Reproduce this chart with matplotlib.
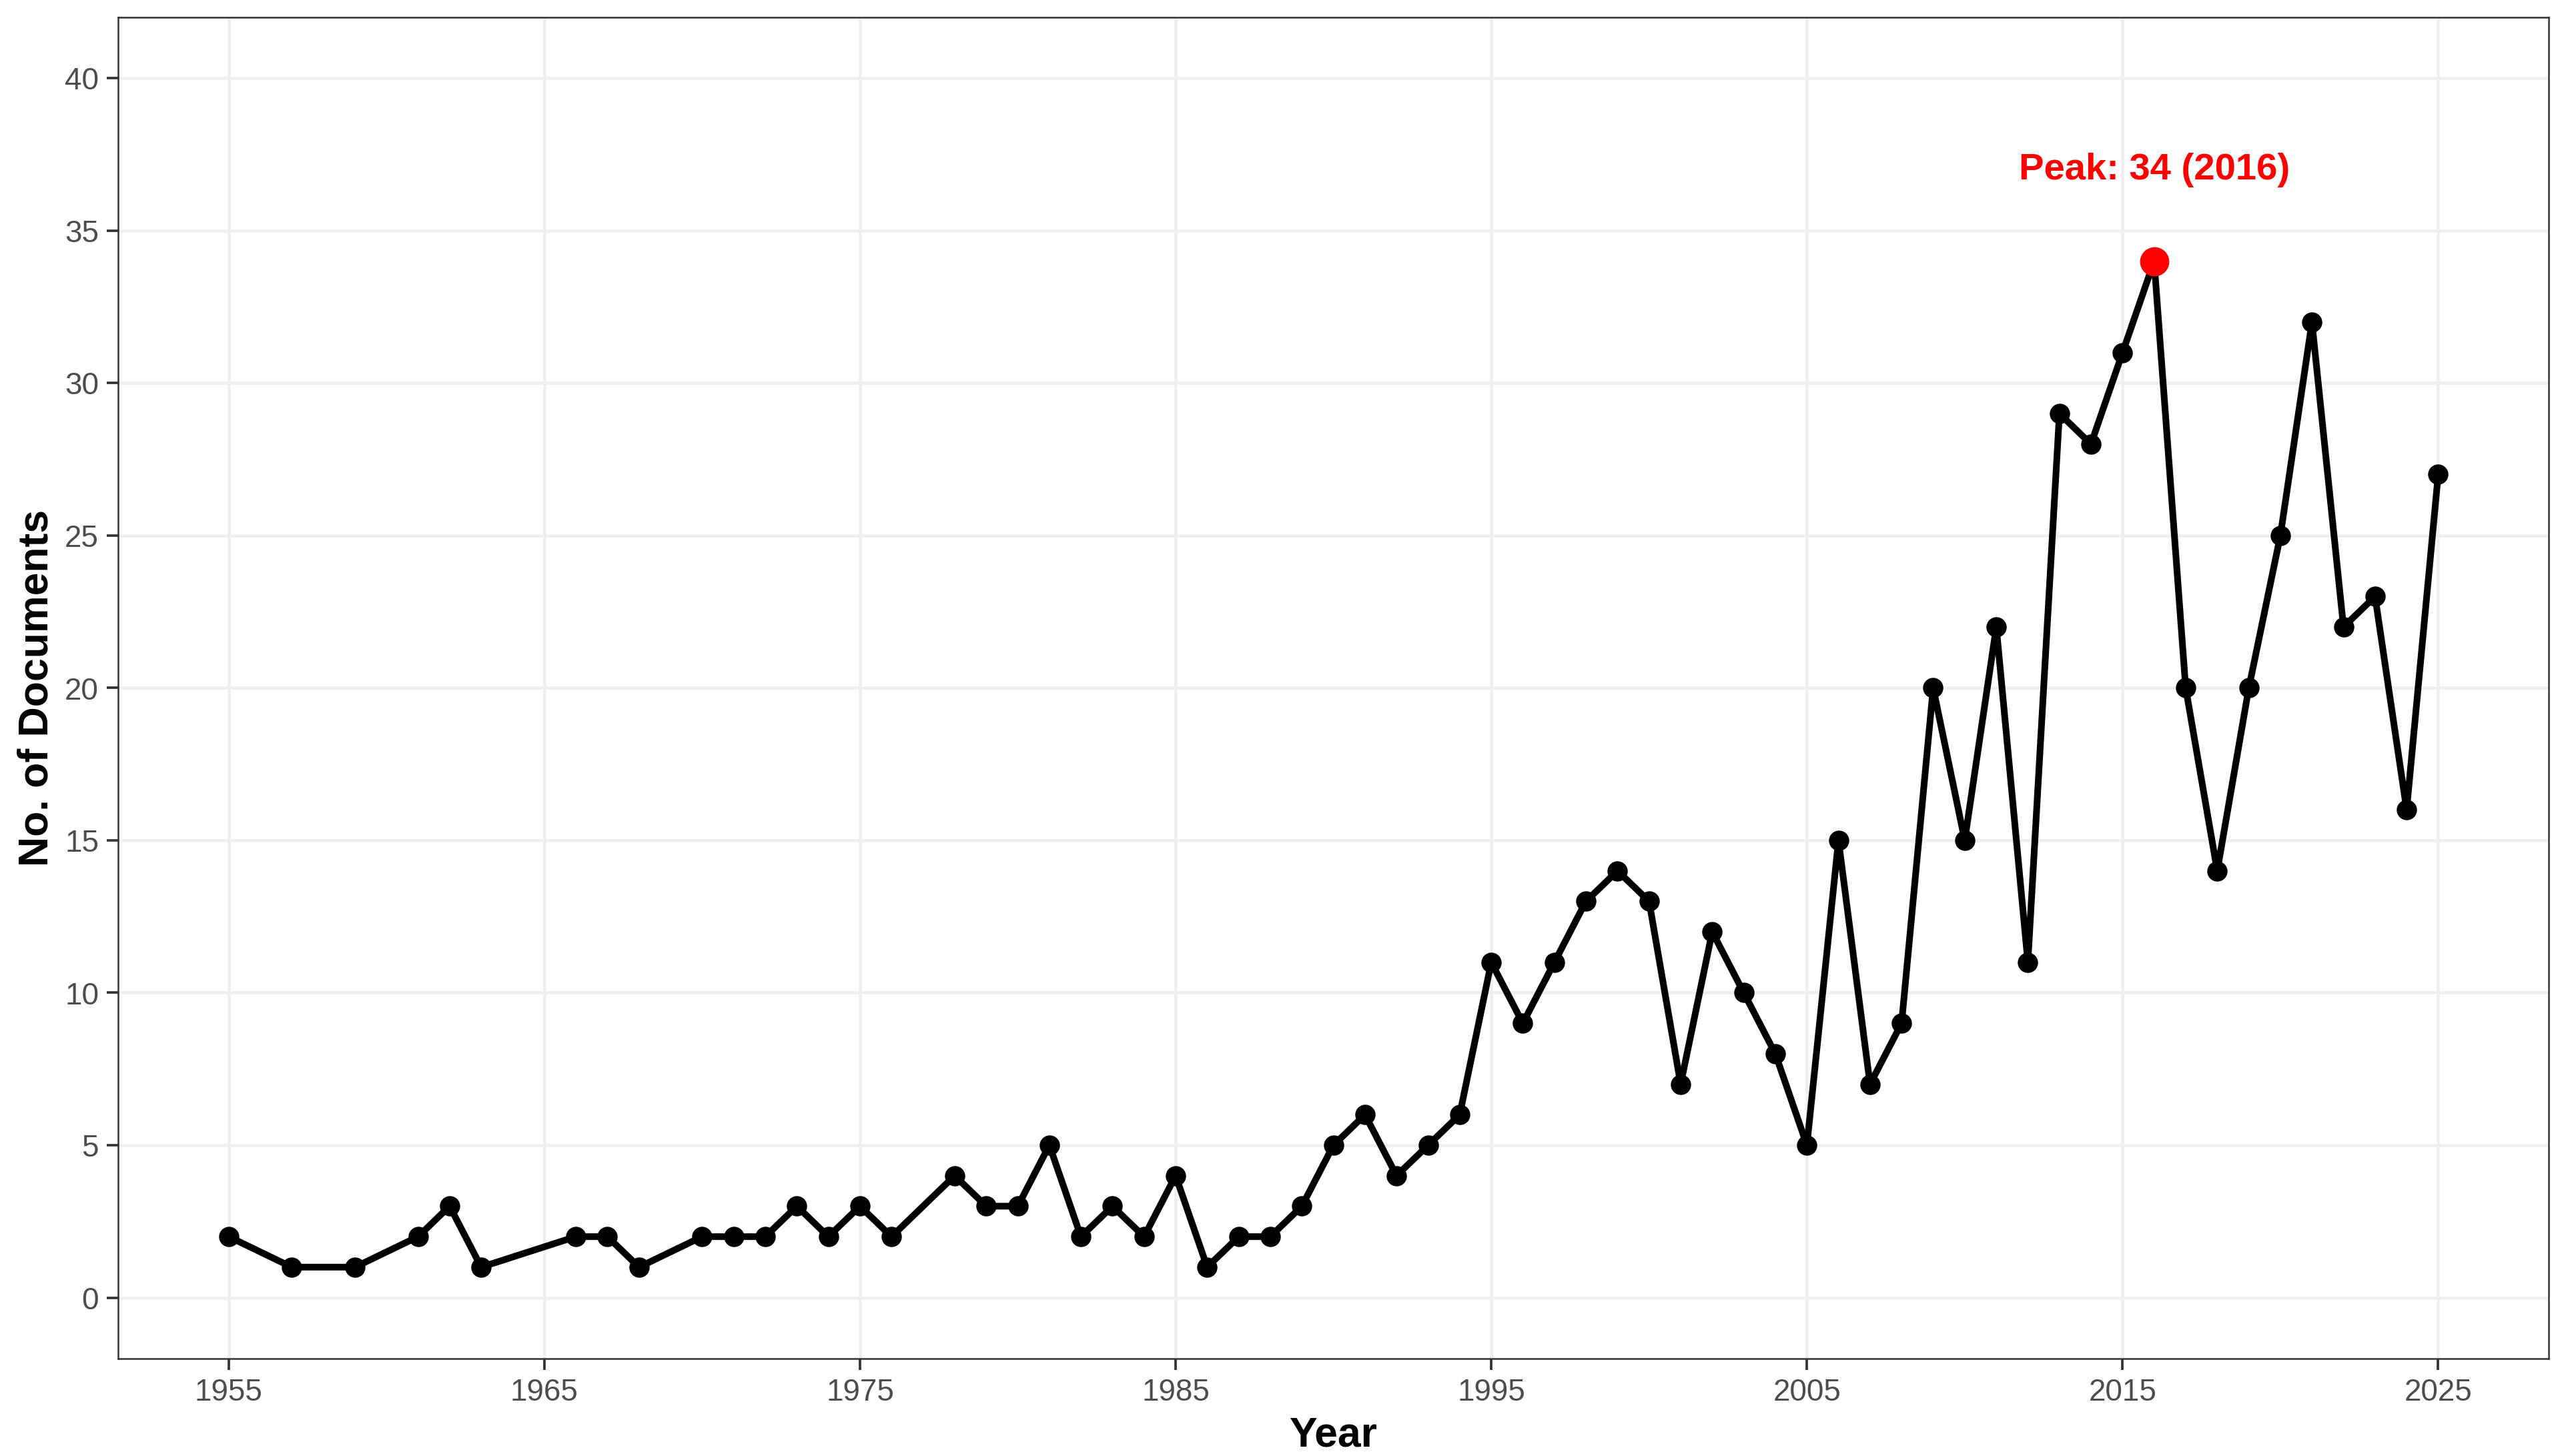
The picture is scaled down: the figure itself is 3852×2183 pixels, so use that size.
import matplotlib
matplotlib.use('Agg')
import matplotlib.pyplot as plt

plt.rcParams['font.family'] = ['Liberation Sans', 'DejaVu Sans']

years = [1955, 1957, 1959, 1961, 1962, 1963, 1966, 1967, 1968, 1970,
         1971, 1972, 1973, 1974, 1975, 1976, 1978, 1979, 1980, 1981,
         1982, 1983, 1984, 1985, 1986, 1987, 1988, 1989, 1990, 1991,
         1992, 1993, 1994, 1995, 1996, 1997, 1998, 1999, 2000, 2001,
         2002, 2003, 2004, 2005, 2006, 2007, 2008, 2009, 2010, 2011,
         2012, 2013, 2014, 2015, 2016, 2017, 2018, 2019, 2020, 2021,
         2022, 2023, 2024, 2025]
docs = [2, 1, 1, 2, 3, 1, 2, 2, 1, 2,
        2, 2, 3, 2, 3, 2, 4, 3, 3, 5,
        2, 3, 2, 4, 1, 2, 2, 3, 5, 6,
        4, 5, 6, 11, 9, 11, 13, 14, 13, 7,
        12, 10, 8, 5, 15, 7, 9, 20, 15, 22,
        11, 29, 28, 31, 34, 20, 14, 20, 25, 32,
        22, 23, 16, 27]

x_ticks = [1955, 1965, 1975, 1985, 1995, 2005, 2015, 2025]
y_ticks = [0, 5, 10, 15, 20, 25, 30, 35, 40]

peak_i = docs.index(max(docs))
peak_year = years[peak_i]
peak_val = docs[peak_i]

fig = plt.figure(figsize=(12.84, 7.277), dpi=300)
ax = fig.add_axes([0.046, 0.0669, 0.9457, 0.9212])

ax.plot(years, docs, color='black', linewidth=2.4, zorder=3)
ax.scatter(years, docs, s=7.3**2, color='black', zorder=4, linewidths=0)
ax.scatter([peak_year], [peak_val], s=10.5**2, color='#FF0000', zorder=5, linewidths=0)
ax.text(peak_year, peak_val + 3, f'Peak: {peak_val} ({peak_year})', color='#FF0000',
        fontsize=13.5, fontweight='bold', ha='center', va='center', zorder=6)

# ggplot-like limits with 5% expansion
span_x = years[-1] - years[0]
ax.set_xlim(years[0] - 0.05 * span_x, years[-1] + 0.05 * span_x)
ax.set_ylim(-2, 42)
ax.set_xticks(x_ticks)
ax.set_yticks(y_ticks)

ax.grid(True, color='#EFEFEF', linewidth=1.1, zorder=0)
ax.set_axisbelow(True)
for s in ax.spines.values():
    s.set_color('#333333')
    s.set_linewidth(0.6)
ax.tick_params(axis='both', length=4, width=0.9, color='#333333',
               labelsize=11, labelcolor='#4D4D4D', pad=3)

ax.set_xlabel('Year', fontsize=15, fontweight='bold', labelpad=3)
ax.set_ylabel('No. of Documents', fontsize=15, fontweight='bold', labelpad=3)

fig.savefig('out.png', dpi=300, facecolor='white')
